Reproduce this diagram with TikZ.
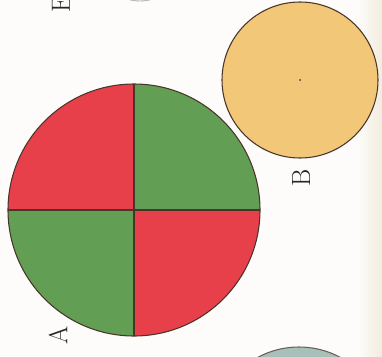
\documentclass[tikz,border=0pt]{standalone}
\definecolor{discred}{RGB}{232,64,74}
\definecolor{discgreen}{RGB}{98,158,84}
\definecolor{discorange}{RGB}{242,200,120}
\definecolor{discgrey}{RGB}{166,192,186}
\definecolor{inkline}{RGB}{72,52,42}
\definecolor{paper}{RGB}{253,252,250}
\definecolor{pageedge}{RGB}{242,236,222}
\usepackage{tikz}

\begin{document}
\begin{tikzpicture}[x=0.02cm, y=0.02cm,
    letter/.style={rotate=90, inner sep=0pt, font=\fontsize{15}{17}\selectfont, text=black!85}]
  \useasboundingbox (0,0) rectangle (382,356);
  \fill[paper] (0,0) rectangle (382,356);
  \shade[left color=paper, right color=pageedge] (358,0) rectangle (382,356);
  \clip (0,0) rectangle (382,356);

  % disc A, four quarters
  \coordinate (A) at (134,146);
  \begin{scope}
    \clip (A) circle[radius=126];
    \fill[discred]   (A) rectangle +(-130,130);
    \fill[discgreen] (A) rectangle +(130,130);
    \fill[discgreen] (A) rectangle +(-130,-130);
    \fill[discred]   (A) rectangle +(130,-130);
  \end{scope}
  \draw[inkline, line width=0.6pt] (A) circle[radius=126];
  \draw[inkline, line width=0.9pt] (A) ++(0,126) -- ++(0,-252);
  \draw[inkline, line width=0.9pt] (A) ++(-126,0) -- ++(252,0);

  % disc B
  \coordinate (B) at (300,276);
  \draw[fill=discorange, draw=inkline, line width=0.6pt] (B) circle[radius=78];
  \fill[inkline] (B) circle[radius=1];

  % discs cut off at the edges
  \draw[fill=discgrey, draw=inkline!80, line width=0.6pt] (299,-78) circle[radius=87];
  \draw[black!30, line width=0.5pt] (140,398) circle[radius=43];

  % labels
  \node[letter] (labA) at (58,21) {A};
  \node[letter] (labB) at (301,178) {B};
  \node[letter] (labE) at (61,352) {E};
\end{tikzpicture}
\end{document}
